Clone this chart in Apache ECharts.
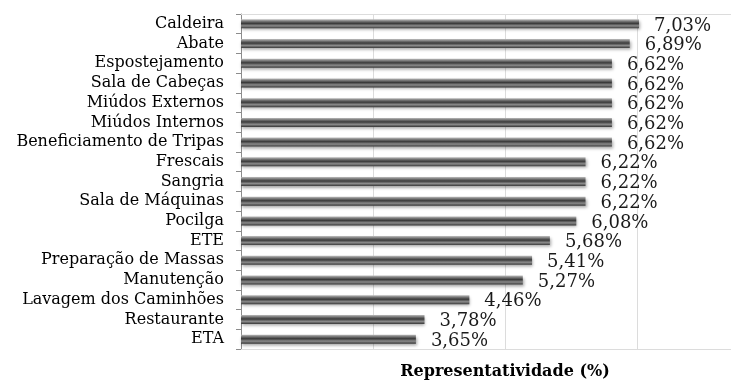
<!DOCTYPE html>
<html>
<head>
<meta charset="utf-8">
<script src="https://cdn.jsdelivr.net/npm/echarts@6/dist/echarts.min.js"></script>
<style>html,body{margin:0;padding:0;background:#fff}#c{width:731px;height:381px}</style>
</head>
<body>
<div id="c"></div>
<script>
const categories = ["Caldeira","Abate","Espostejamento","Sala de Cabeças","Miúdos Externos","Miúdos Internos","Beneficiamento de Tripas","Frescais","Sangria","Sala de Máquinas","Pocilga","ETE","Preparação de Massas","Manutenção","Lavagem dos Caminhões","Restaurante","ETA"];
const values = [7.03,6.89,6.62,6.62,6.62,6.62,6.62,6.22,6.22,6.22,6.08,5.68,5.41,5.27,4.46,3.78,3.65];
const axisName = "Representatividade (%)";

const serif = "'DejaVu Serif', 'Liberation Serif', serif";
const chart = echarts.init(document.getElementById('c'), null, {renderer: 'canvas'});
chart.setOption({
  animation: false,
  backgroundColor: '#fff',
  grid: {left: 241, right: -38, top: 14, bottom: 32, containLabel: false, outerBoundsMode: 'none'},
  xAxis: [{
    type: 'value', min: 1, max: 9, interval: 2, position: 'bottom',
    axisLabel: {show: false}, axisTick: {show: false},
    axisLine: {show: true, lineStyle: {color: '#dcdcdc', width: 1}},
    splitLine: {show: true, lineStyle: {color: '#dcdcdc', width: 1}},
    name: axisName, nameLocation: 'middle', nameGap: 15,
    nameTextStyle: {fontFamily: serif, fontWeight: 'bold', fontSize: 16, color: '#000'}
  }, {
    type: 'value', min: 1, max: 9, interval: 2, position: 'top',
    axisLabel: {show: false}, axisTick: {show: false}, splitLine: {show: false},
    axisLine: {show: true, lineStyle: {color: '#dcdcdc', width: 1}}
  }],
  yAxis: {
    type: 'category', data: categories, inverse: true,
    axisLine: {show: true, lineStyle: {color: '#8c8c8c', width: 1}},
    axisTick: {show: true, length: 5, lineStyle: {color: '#8c8c8c'}},
    axisLabel: {interval: 0, fontFamily: serif, fontSize: 16, color: '#000', margin: 17}
  },
  series: [{
    type: 'bar', data: values, barWidth: 9, xAxisIndex: 0,
    itemStyle: {
      color: new echarts.graphic.LinearGradient(0, 0, 0, 1, [
        {offset: 0, color: '#bdbdbd'},
        {offset: 0.25, color: '#6e6e6e'},
        {offset: 0.45, color: '#3a3a3a'},
        {offset: 0.72, color: '#8a8a8a'},
        {offset: 1, color: '#383838'}
      ]),
      shadowColor: 'rgba(0,0,0,0.35)', shadowBlur: 3, shadowOffsetY: 2, shadowOffsetX: 1
    },
    label: {
      show: true, position: 'right', distance: 15,
      fontFamily: serif, fontSize: 18, color: '#1a1a1a', offset: [0, 2],
      formatter: p => p.value.toFixed(2).replace('.', ',') + '%'
    }
  }]
});
</script>
</body>
</html>
